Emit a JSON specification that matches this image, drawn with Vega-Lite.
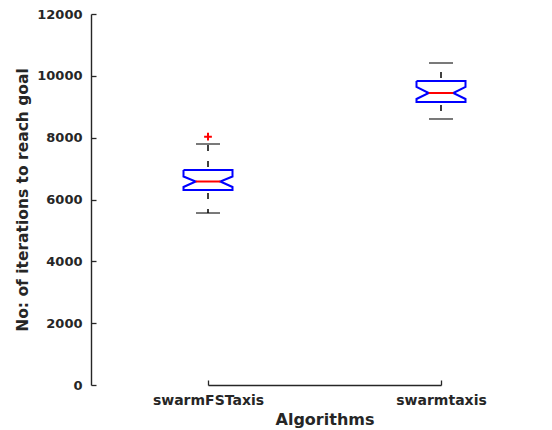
{
  "$schema": "https://vega.github.io/schema/vega-lite/v6.json",
  "width": 460,
  "height": 371,
  "autosize": {"type": "none"},
  "padding": {"left": 91, "top": 14, "right": 1, "bottom": 45},
  "background": "white",
  "config": {
    "view": {"stroke": null},
    "axis": {
      "grid": false,
      "domainColor": "#262626",
      "domainWidth": 1.4,
      "tickColor": "#262626",
      "tickWidth": 1.3,
      "labelColor": "#262626",
      "labelFont": "DejaVu Sans",
      "labelFontWeight": "bold",
      "labelFontSize": 13,
      "titleColor": "#262626",
      "titleFont": "DejaVu Sans",
      "titleFontWeight": "bold",
      "titleFontSize": 15.5
    }
  },
  "datasets": {
    "boxes": [
      {"alg": "swarmFSTaxis", "q1": 6307, "q3": 6954, "lo": 5563, "hi": 7795},
      {"alg": "swarmtaxis", "q1": 9153, "q3": 9832, "lo": 8604, "hi": 10415}
    ],
    "outline": [
      {"alg": "swarmFSTaxis", "o": 1, "v": "L", "y": 6954},
      {"alg": "swarmFSTaxis", "o": 2, "v": "R", "y": 6954},
      {"alg": "swarmFSTaxis", "o": 3, "v": "R", "y": 6744},
      {"alg": "swarmFSTaxis", "o": 4, "v": "r", "y": 6582},
      {"alg": "swarmFSTaxis", "o": 5, "v": "R", "y": 6404},
      {"alg": "swarmFSTaxis", "o": 6, "v": "R", "y": 6307},
      {"alg": "swarmFSTaxis", "o": 7, "v": "L", "y": 6307},
      {"alg": "swarmFSTaxis", "o": 8, "v": "L", "y": 6404},
      {"alg": "swarmFSTaxis", "o": 9, "v": "l", "y": 6582},
      {"alg": "swarmFSTaxis", "o": 10, "v": "L", "y": 6744},
      {"alg": "swarmFSTaxis", "o": 11, "v": "L", "y": 6954},
      {"alg": "swarmtaxis", "o": 1, "v": "L", "y": 9832},
      {"alg": "swarmtaxis", "o": 2, "v": "R", "y": 9832},
      {"alg": "swarmtaxis", "o": 3, "v": "R", "y": 9639},
      {"alg": "swarmtaxis", "o": 4, "v": "r", "y": 9445},
      {"alg": "swarmtaxis", "o": 5, "v": "R", "y": 9251},
      {"alg": "swarmtaxis", "o": 6, "v": "R", "y": 9153},
      {"alg": "swarmtaxis", "o": 7, "v": "L", "y": 9153},
      {"alg": "swarmtaxis", "o": 8, "v": "L", "y": 9251},
      {"alg": "swarmtaxis", "o": 9, "v": "l", "y": 9445},
      {"alg": "swarmtaxis", "o": 10, "v": "L", "y": 9639},
      {"alg": "swarmtaxis", "o": 11, "v": "L", "y": 9832}
    ],
    "medians": [
      {"alg": "swarmFSTaxis", "o": 1, "v": "l", "y": 6582},
      {"alg": "swarmFSTaxis", "o": 2, "v": "r", "y": 6582},
      {"alg": "swarmtaxis", "o": 1, "v": "l", "y": 9445},
      {"alg": "swarmtaxis", "o": 2, "v": "r", "y": 9445}
    ],
    "outliers": [
      {"alg": "swarmFSTaxis", "value": 8030}
    ]
  },
  "layer": [
    {
      "layer": [
        {
          "mark": {"type": "rule", "color": "#262626", "strokeWidth": 1.4},
          "encoding": {"y": {"datum": 12000, "type": "quantitative"}}
        },
        {
          "data": {"name": "boxes"},
          "mark": {"type": "rule", "color": "black", "strokeWidth": 1.5, "strokeDash": [6, 10], "strokeDashOffset": 13},
          "encoding": {
            "x": {"field": "alg", "type": "nominal"},
            "y": {"field": "q3", "type": "quantitative"},
            "y2": {"field": "hi"}
          }
        },
        {
          "data": {"name": "boxes"},
          "mark": {"type": "rule", "color": "black", "strokeWidth": 1.5, "strokeDash": [6, 10], "strokeDashOffset": 13},
          "encoding": {
            "x": {"field": "alg", "type": "nominal"},
            "y": {"field": "q1", "type": "quantitative"},
            "y2": {"field": "lo"}
          }
        },
        {
          "data": {"name": "boxes"},
          "mark": {"type": "tick", "orient": "horizontal", "color": "black", "size": 24, "thickness": 1.5},
          "encoding": {
            "x": {"field": "alg", "type": "nominal"},
            "y": {"field": "hi", "type": "quantitative"}
          }
        },
        {
          "data": {"name": "boxes"},
          "mark": {"type": "tick", "orient": "horizontal", "color": "black", "size": 24, "thickness": 1.5},
          "encoding": {
            "x": {"field": "alg", "type": "nominal"},
            "y": {"field": "lo", "type": "quantitative"}
          }
        },
        {
          "data": {"name": "outline"},
          "mark": {"type": "line", "color": "#0000ff", "strokeWidth": 2, "strokeJoin": "miter"},
          "encoding": {
            "x": {"field": "alg", "type": "nominal"},
            "xOffset": {"field": "v", "type": "nominal", "scale": {"type": "point", "domain": ["L", "l", "c", "r", "R"], "range": [-24.5, 24.5], "padding": 0}},
            "y": {"field": "y", "type": "quantitative"},
            "order": {"field": "o", "type": "quantitative"},
            "detail": {"field": "alg"}
          }
        },
        {
          "data": {"name": "medians"},
          "mark": {"type": "line", "color": "#ff0000", "strokeWidth": 2},
          "encoding": {
            "x": {"field": "alg", "type": "nominal"},
            "xOffset": {"field": "v", "type": "nominal", "scale": {"type": "point", "domain": ["L", "l", "c", "r", "R"], "range": [-24.5, 24.5], "padding": 0}},
            "y": {"field": "y", "type": "quantitative"},
            "order": {"field": "o", "type": "quantitative"},
            "detail": {"field": "alg"}
          }
        },
        {
          "data": {"name": "outliers"},
          "mark": {"type": "point", "shape": "M-1,0H1M0,-1V1", "filled": false, "color": "#ff0000", "strokeWidth": 2, "size": 60, "opacity": 1},
          "encoding": {
            "x": {"field": "alg", "type": "nominal"},
            "y": {"field": "value", "type": "quantitative"}
          }
        }
      ],
      "encoding": {
        "x": {
          "field": "alg",
          "type": "nominal",
          "scale": {"type": "point", "domain": ["swarmFSTaxis", "swarmtaxis"], "range": [117, 350], "padding": 0},
          "axis": {"title": "Algorithms", "labelAngle": 0, "ticks": false, "labelPadding": 8, "labelFontSize": 14, "titlePadding": 4, "titleFontSize": 16}
        },
        "y": {
          "type": "quantitative",
          "scale": {"domain": [0, 12000], "nice": false},
          "axis": {"title": "No: of iterations to reach goal", "format": "d", "ticks": false, "values": [0, 2000, 4000, 6000, 8000, 10000, 12000], "labelPadding": 9, "titlePadding": 6}
        }
      }
    },
    {
      "data": {"name": "outliers"},
      "mark": {"type": "point", "opacity": 0},
      "encoding": {
        "x": {
          "field": "alg",
          "type": "nominal",
          "scale": {"type": "point", "domain": ["swarmFSTaxis", "swarmtaxis"], "range": [117, 350], "padding": 0},
          "axis": {"orient": "top", "offset": -371, "title": null, "labels": false, "domain": false, "ticks": true, "tickSize": 5}
        },
        "y": {
          "field": "value",
          "type": "quantitative",
          "scale": {"domain": [0, 12000], "nice": false},
          "axis": {"orient": "right", "offset": -460, "title": null, "labels": false, "domain": false, "ticks": true, "tickSize": 5, "values": [0, 2000, 4000, 6000, 8000, 10000, 12000]}
        }
      }
    }
  ],
  "resolve": {"axis": {"x": "independent", "y": "independent"}}
}
